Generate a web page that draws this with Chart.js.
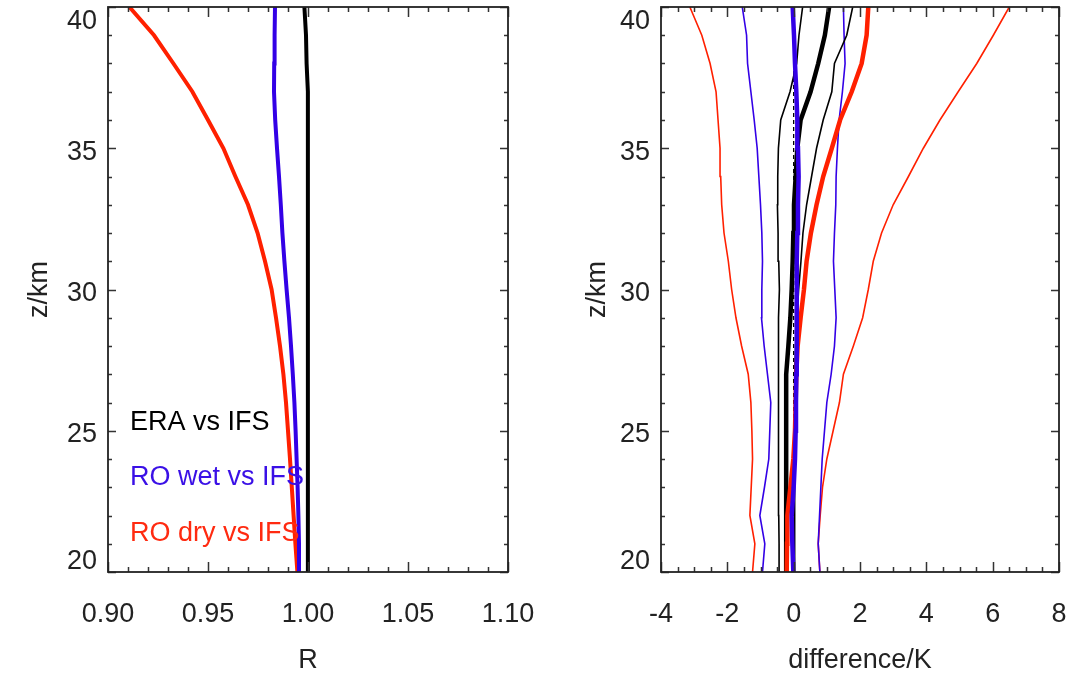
<!DOCTYPE html>
<html>
<head>
<meta charset="utf-8">
<script src="https://cdn.jsdelivr.net/npm/chart.js@4/dist/chart.umd.min.js"></script>
<style>
html, body { margin: 0; padding: 0; background: #fff; }
#wrap { position: relative; width: 1075px; height: 676px; }
canvas { position: absolute; top: 0; }
</style>
</head>
<body>
<div id="wrap">
  <canvas id="leftChart" width="540" height="676" style="left:0"></canvas>
  <canvas id="rightChart" width="535" height="676" style="left:540px"></canvas>
</div>
<script>
// height levels (km), shared by every profile
const zLevels = [20, 21, 22, 23, 24, 25, 26, 27, 28, 29, 30, 31, 32, 33, 34, 35, 36, 37, 38, 39, 40];

// left panel: ratio R
const ratioEra = [1.000, 1.000, 1.000, 1.000, 1.000, 1.000, 1.000, 1.000, 1.000, 1.000, 1.000,
                  1.000, 1.000, 1.000, 1.000, 0.9998, 0.9997, 0.9995, 0.9993, 0.999, 0.9982];
const ratioWet = [0.9960, 0.9955, 0.9952, 0.9948, 0.9943, 0.9938, 0.9932, 0.9924, 0.9915, 0.9905, 0.9893,
                  0.9882, 0.9872, 0.9864, 0.9855, 0.9845, 0.9836, 0.9830, 0.9831, 0.9833, 0.9835];
const ratioDry = [0.9947, 0.9937, 0.9928, 0.9919, 0.9910, 0.9900, 0.9890, 0.9877, 0.9860, 0.9840, 0.9818,
                  0.9785, 0.9748, 0.9700, 0.9637, 0.9577, 0.9500, 0.9422, 0.9327, 0.9230, 0.9107];

// right panel: difference (K), mean and spread
const eraMean = [-0.21, -0.22, -0.22, -0.23, -0.23, -0.23, -0.23, -0.22, -0.16, -0.10, -0.06,
                 -0.03, -0.01, 0.01, 0.06, 0.11, 0.21, 0.51, 0.74, 0.94, 1.07];
const eraLo   = [-0.44, -0.44, -0.45, -0.45, -0.46, -0.46, -0.46, -0.46, -0.46, -0.45, -0.43,
                 -0.45, -0.47, -0.49, -0.48, -0.46, -0.39, -0.11, 0.09, 0.16, 0.27];
const eraHi   = [0.02, 0.02, 0.02, 0.03, 0.03, 0.03, 0.04, 0.04, 0.06, 0.10, 0.15,
                 0.22, 0.28, 0.39, 0.54, 0.69, 0.89, 1.15, 1.23, 1.60, 1.78];
const wetMean = [-0.01, -0.04, -0.06, 0.00, 0.04, 0.06, 0.07, 0.08, 0.09, 0.09, 0.09,
                 0.10, 0.11, 0.13, 0.15, 0.13, 0.11, 0.08, 0.04, 0.01, -0.03];
const wetLo   = [-0.94, -0.87, -1.02, -0.88, -0.75, -0.72, -0.69, -0.79, -0.89, -0.97, -0.96,
                 -0.94, -0.96, -1.00, -1.05, -1.10, -1.19, -1.29, -1.39, -1.42, -1.55];
const wetHi   = [0.79, 0.74, 0.78, 0.82, 0.86, 0.93, 1.00, 1.13, 1.23, 1.28, 1.24,
                 1.20, 1.23, 1.27, 1.28, 1.32, 1.37, 1.47, 1.55, 1.52, 1.50];
const dryMean = [-0.21, -0.20, -0.19, -0.10, -0.01, 0.04, 0.06, 0.08, 0.12, 0.21, 0.31,
                 0.39, 0.52, 0.69, 0.89, 1.15, 1.40, 1.75, 2.05, 2.20, 2.25];
const dryLo   = [-1.24, -1.17, -1.32, -1.28, -1.24, -1.26, -1.29, -1.37, -1.57, -1.74, -1.87,
                 -1.97, -2.10, -2.17, -2.20, -2.22, -2.28, -2.34, -2.52, -2.77, -3.13];
const dryHi   = [0.79, 0.74, 0.80, 0.87, 1.00, 1.19, 1.38, 1.50, 1.80, 2.08, 2.25,
                 2.40, 2.65, 3.00, 3.46, 3.91, 4.41, 4.96, 5.52, 6.02, 6.50];
const zeroLine = [0, 0];
const zeroLevels = [20, 40];

// tick labels
const zTicks = [20, 25, 30, 35, 40];
const ratioTicks = [0.90, 0.95, 1.00, 1.05, 1.10];
const diffTicks = [-4, -2, 0, 2, 4, 6, 8];

const legendItems = [
  { text: "ERA vs IFS", color: "#000000", x: 0.911, z: 25.3 },
  { text: "RO wet vs IFS", color: "#3a10e6", x: 0.911, z: 23.35 },
  { text: "RO dry vs IFS", color: "#ff2a10", x: 0.911, z: 21.35 }
];

const RED = "#ff2000";
const BLUE = "#3300e6";
const FONT = "27px 'Liberation Sans', Arial, sans-serif";

function profile(values, levels, color, width, dash) {
  return {
    data: values.map((v, i) => ({ x: v, y: levels[i] })),
    borderColor: color,
    borderWidth: width,
    borderDash: dash || [],
    pointRadius: 0,
    tension: 0,
    fill: false
  };
}

function isMajor(v, list) {
  return list.some(t => Math.abs(t - v) < 1e-6);
}

const framePlugin = {
  id: "frame",
  afterDatasetsDraw(chart, args, opts) {
    const ctx = chart.ctx;
    const { left, right, top, bottom } = chart.chartArea;
    const xs = chart.scales.x, ys = chart.scales.y;
    ctx.save();

    // ticks on all four sides, pointing inward
    ctx.strokeStyle = "#333";
    ctx.lineWidth = 1.5;
    let n = Math.round((xs.max - xs.min) / opts.xMinor);
    for (let i = 0; i <= n; i++) {
      const v = xs.min + i * opts.xMinor;
      const px = Math.round(xs.getPixelForValue(v)) + 0.5;
      const len = isMajor(v, opts.xTicks) ? 10 : 5;
      ctx.beginPath();
      ctx.moveTo(px, bottom); ctx.lineTo(px, bottom - len);
      ctx.moveTo(px, top); ctx.lineTo(px, top + len);
      ctx.stroke();
    }
    n = Math.round((ys.max - ys.min) / opts.yMinor);
    for (let i = 0; i <= n; i++) {
      const v = ys.min + i * opts.yMinor;
      const py = Math.round(ys.getPixelForValue(v)) + 0.5;
      const len = isMajor(v, opts.yTicks) ? 8 : 4;
      ctx.beginPath();
      ctx.moveTo(left, py); ctx.lineTo(left + len, py);
      ctx.moveTo(right, py); ctx.lineTo(right - len, py);
      ctx.stroke();
    }

    // frame
    ctx.strokeStyle = "#222";
    ctx.lineWidth = 1.8;
    ctx.strokeRect(left, top, right - left, bottom - top);

    // tick labels
    ctx.fillStyle = "#222";
    ctx.font = FONT;
    ctx.textBaseline = "middle";
    ctx.textAlign = "center";
    opts.xTicks.forEach(v => {
      ctx.fillText(opts.xFormat(v), xs.getPixelForValue(v), bottom + 43);
    });
    ctx.textAlign = "right";
    opts.yTicks.forEach(v => {
      let py = ys.getPixelForValue(v) + 4;
      py = Math.min(Math.max(py, top + 15), bottom - 10);
      ctx.fillText(String(v), left - 11, py);
    });

    // axis titles
    ctx.textAlign = "center";
    ctx.fillText(opts.xTitle, (left + right) / 2, bottom + 89);
    ctx.save();
    ctx.translate(left - opts.yTitleGap, (top + bottom) / 2);
    ctx.rotate(-Math.PI / 2);
    ctx.fillText("z/km", 0, 0);
    ctx.restore();

    // in-plot legend text
    ctx.textAlign = "left";
    (opts.notes || []).forEach(item => {
      ctx.fillStyle = item.color;
      ctx.fillText(item.text, xs.getPixelForValue(item.x), ys.getPixelForValue(item.z));
    });
    ctx.restore();
  }
};

function baseOptions(xMin, xMax, padRight, frame) {
  return {
    responsive: false,
    animation: false,
    devicePixelRatio: 1,
    layout: { padding: { left: frame.padLeft, right: padRight, top: 7, bottom: 104 } },
    plugins: { legend: { display: false }, tooltip: { enabled: false }, frame: frame },
    scales: {
      x: { type: "linear", min: xMin, max: xMax, display: false },
      y: { type: "linear", min: 20, max: 40, display: false }
    }
  };
}

new Chart(document.getElementById("leftChart"), {
  type: "line",
  data: {
    datasets: [
      profile(ratioEra, zLevels, "#000000", 4),
      profile(ratioWet, zLevels, BLUE, 4),
      profile(ratioDry, zLevels, RED, 4)
    ]
  },
  options: baseOptions(0.9, 1.1, 32, {
    padLeft: 108,
    xTicks: ratioTicks, xMinor: 0.01,
    yTicks: zTicks, yMinor: 1,
    xFormat: v => v.toFixed(2),
    xTitle: "R",
    yTitleGap: 68,
    notes: legendItems
  }),
  plugins: [framePlugin]
});

new Chart(document.getElementById("rightChart"), {
  type: "line",
  data: {
    datasets: [
      profile(wetMean, zLevels, BLUE, 4.5),
      profile(dryMean, zLevels, RED, 4.5),
      profile(eraMean, zLevels, "#000000", 4.5),
      profile(zeroLine, zeroLevels, "#000000", 1.3, [4, 3]),
      profile(eraLo, zLevels, "#000000", 1.6),
      profile(eraHi, zLevels, "#000000", 1.6),
      profile(wetLo, zLevels, BLUE, 1.6),
      profile(wetHi, zLevels, BLUE, 1.6),
      profile(dryLo, zLevels, RED, 1.6),
      profile(dryHi, zLevels, RED, 1.6)
    ]
  },
  options: baseOptions(-4, 8, 16, {
    padLeft: 121,
    xTicks: diffTicks, xMinor: 0.5,
    yTicks: zTicks, yMinor: 1,
    xFormat: v => String(v),
    xTitle: "difference/K",
    yTitleGap: 63
  }),
  plugins: [framePlugin]
});
</script>
</body>
</html>
